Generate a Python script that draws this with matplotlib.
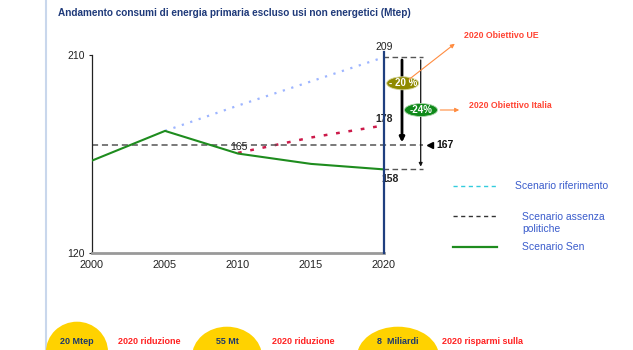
import matplotlib
matplotlib.use('Agg')
import matplotlib.pyplot as plt
from matplotlib.patches import Ellipse, FancyArrowPatch
from matplotlib.lines import Line2D

# ---- data ----
years_sen = [2000, 2005, 2010, 2015, 2020]
sen = [162, 175.5, 165.2, 160.5, 158]
years_rif = [2005, 2010, 2015, 2020]
rif = [175.5, 187, 198, 209]
years_ass = [2010, 2015, 2020]
ass = [165.5, 172.5, 178]
baseline = 169
yticks = [120, 210]
xticks = [2000, 2005, 2010, 2015, 2020]
title = "Andamento consumi di energia primaria escluso usi non energetici (Mtep)"
legend_labels = ["Scenario riferimento", "Scenario assenza\npolitiche", "Scenario Sen"]
bubbles = [("20 Mtep", "2020 riduzione"), ("55 Mt", "2020 riduzione"), ("8  Miliardi", "2020 risparmi sulla")]

W, H = 633, 350
def F(px, py):
    return (px / W, 1 - py / H)
def px2x(px):
    return 2000 + (px - 92) / 292 * 20

plt.rcParams['font.family'] = ['Liberation Sans', 'DejaVu Sans']
fig = plt.figure(figsize=(6.33, 3.5), dpi=100)
ax = fig.add_axes([92 / W, 1 - 253 / H, (384 - 92) / W, (253 - 55) / H])
ax.set_xlim(2000, 2020)
ax.set_ylim(120, 210)

GREEN = '#1E8C1E'
# page border
fig.add_artist(Line2D([46 / W, 46 / W], [0, 1], color='#C9D7EC', lw=1.5))

fig.text(*F(58, 13), title, fontsize=7.2, fontweight='bold', color='#1F3A7A',
         ha='left', va='center')

# lines
ax.plot(years_rif, rif, color='#9DB5FF', lw=1.6, linestyle=(0, (1, 3)), zorder=2)
ax.plot(years_ass, ass, color='#CC1A4A', lw=1.8, linestyle=(0, (1.5, 3.5)), zorder=2)
ax.plot(years_sen, sen, color=GREEN, lw=1.5, zorder=3)
ax.plot([2000, px2x(423)], [baseline, baseline], color='#555555', lw=1.1,
        linestyle=(0, (4, 2.5)), clip_on=False, zorder=2)
ax.plot([2020, 2020], [120, 211.5], color='#1F3F7F', lw=1.6, clip_on=False, zorder=4)

# spines
for s in ['top', 'right']:
    ax.spines[s].set_visible(False)
ax.spines['left'].set_color('#222222')
ax.spines['left'].set_linewidth(0.9)
ax.spines['bottom'].set_color('#999999')
ax.spines['bottom'].set_linewidth(2)
ax.set_xticks(xticks)
ax.set_yticks(yticks)
ax.tick_params(axis='x', length=0, pad=5, labelsize=7.8, colors='#222222')
ax.tick_params(axis='y', length=2, pad=3, labelsize=7.5, colors='#222222')
ax.patch.set_alpha(0)

# right-side bracket
xa = px2x(383); xb = px2x(423)
ax.plot([xa, xb], [rif[-1], rif[-1]], color='#555555', lw=1, linestyle=(0, (4, 2.5)), clip_on=False)
ax.plot([xa, xb], [sen[-1], sen[-1]], color='#555555', lw=1, linestyle=(0, (4, 2.5)), clip_on=False)
ax.annotate('', xy=(px2x(402), baseline), xytext=(px2x(402), rif[-1]),
            arrowprops=dict(arrowstyle='-|>', color='black', lw=2, mutation_scale=7),
            annotation_clip=False)
ax.annotate('', xy=(px2x(420.7), sen[-1]), xytext=(px2x(420.7), rif[-1]),
            arrowprops=dict(arrowstyle='-|>', color='#111111', lw=0.9, mutation_scale=5),
            annotation_clip=False)
ax.plot([px2x(430)], [baseline], marker='<', color='black', markersize=5, clip_on=False)
ax.text(px2x(436), baseline, "167", fontsize=7.5, fontweight='bold', ha='left', va='center', color='#111111')

# data labels
ax.text(2020, 213.5, "209", fontsize=7.5, ha='center', va='center', color='#222222')
ax.text(2020, 178.5, "178", fontsize=7.5, fontweight='bold', ha='center', va='bottom', color='#222222')
ax.text(px2x(239), 166, "165", fontsize=7.5, ha='center', va='bottom', color='#222222')
ax.text(px2x(390), 156, "158", fontsize=7.5, fontweight='bold', ha='center', va='top', color='#222222')

# ellipses
e1 = Ellipse(F(402.7, 83.3), 32 / W, 13 / H, transform=fig.transFigure,
             facecolor='#8F8A00', edgecolor='#D8D8A0', lw=0.6, zorder=5)
e2 = Ellipse(F(421, 110), 33 / W, 13 / H, transform=fig.transFigure,
             facecolor='#0F8A1A', edgecolor='#B0D8B0', lw=0.6, zorder=5)
fig.add_artist(e1); fig.add_artist(e2)
fig.text(*F(402.7, 83.3), "- 20 %", fontsize=7, fontweight='bold', color='white',
         ha='center', va='center', zorder=6)
fig.text(*F(421, 110), "-24%", fontsize=7, fontweight='bold', color='white',
         ha='center', va='center', zorder=6)
ORANGE = '#FF8C40'
fig.add_artist(FancyArrowPatch(F(407, 81), F(457, 42), transform=fig.transFigure,
                               arrowstyle='-|>', mutation_scale=6, color=ORANGE, lw=0.8, zorder=7))
fig.add_artist(FancyArrowPatch(F(437.5, 110), F(462, 110), transform=fig.transFigure,
                               arrowstyle='-|>', mutation_scale=6, color=ORANGE, lw=0.8, zorder=7))
RED = '#FF4433'
fig.text(*F(464, 35), "2020 Obiettivo UE", fontsize=6.3, fontweight='bold', color=RED,
         ha='left', va='center')
fig.text(*F(469, 105), "2020 Obiettivo Italia", fontsize=6.3, fontweight='bold', color=RED,
         ha='left', va='center')

# legend (manual)
LEGTXT = '#3A5CCC'
fig.add_artist(Line2D([453 / W, 497 / W], [F(0, 186)[1]] * 2, color='#33CCDD', lw=1,
                      linestyle=(0, (3, 2.5))))
fig.text(*F(515, 186), legend_labels[0], fontsize=7.5, color=LEGTXT, ha='left', va='center')
fig.add_artist(Line2D([453 / W, 497 / W], [F(0, 216)[1]] * 2, color='#333333', lw=1,
                      linestyle=(0, (3, 2.5))))
fig.text(*F(522, 222.5), legend_labels[1], fontsize=7.5, color=LEGTXT, ha='left', va='center',
         linespacing=1.25)
fig.add_artist(Line2D([453 / W, 497 / W], [F(0, 246.7)[1]] * 2, color=GREEN, lw=1.6))
fig.text(*F(522, 246.7), legend_labels[2], fontsize=7.5, color=LEGTXT, ha='left', va='center')

# bottom bubbles
YEL = '#FFD200'
centers = [77, 227, 398]
widths = [62, 70, 82]
tops = [321.7, 326.7, 326.7]
txt_x = [118, 272, 442]
for (b, t), cx, w, top, tx in zip(bubbles, centers, widths, tops, txt_x):
    h = 60
    cy = top + h / 2
    fig.add_artist(Ellipse(F(cx, cy), w / W, h / H, transform=fig.transFigure,
                           facecolor=YEL, edgecolor='none', zorder=3))
    fig.text(*F(cx, 342), b, fontsize=6.5, fontweight='bold', color='#1F3A6A',
             ha='center', va='center', zorder=4)
    fig.text(*F(tx, 342), t, fontsize=6.5, fontweight='bold', color='#FF2222',
             ha='left', va='center', zorder=4)

fig.savefig('out.png', dpi=100)
